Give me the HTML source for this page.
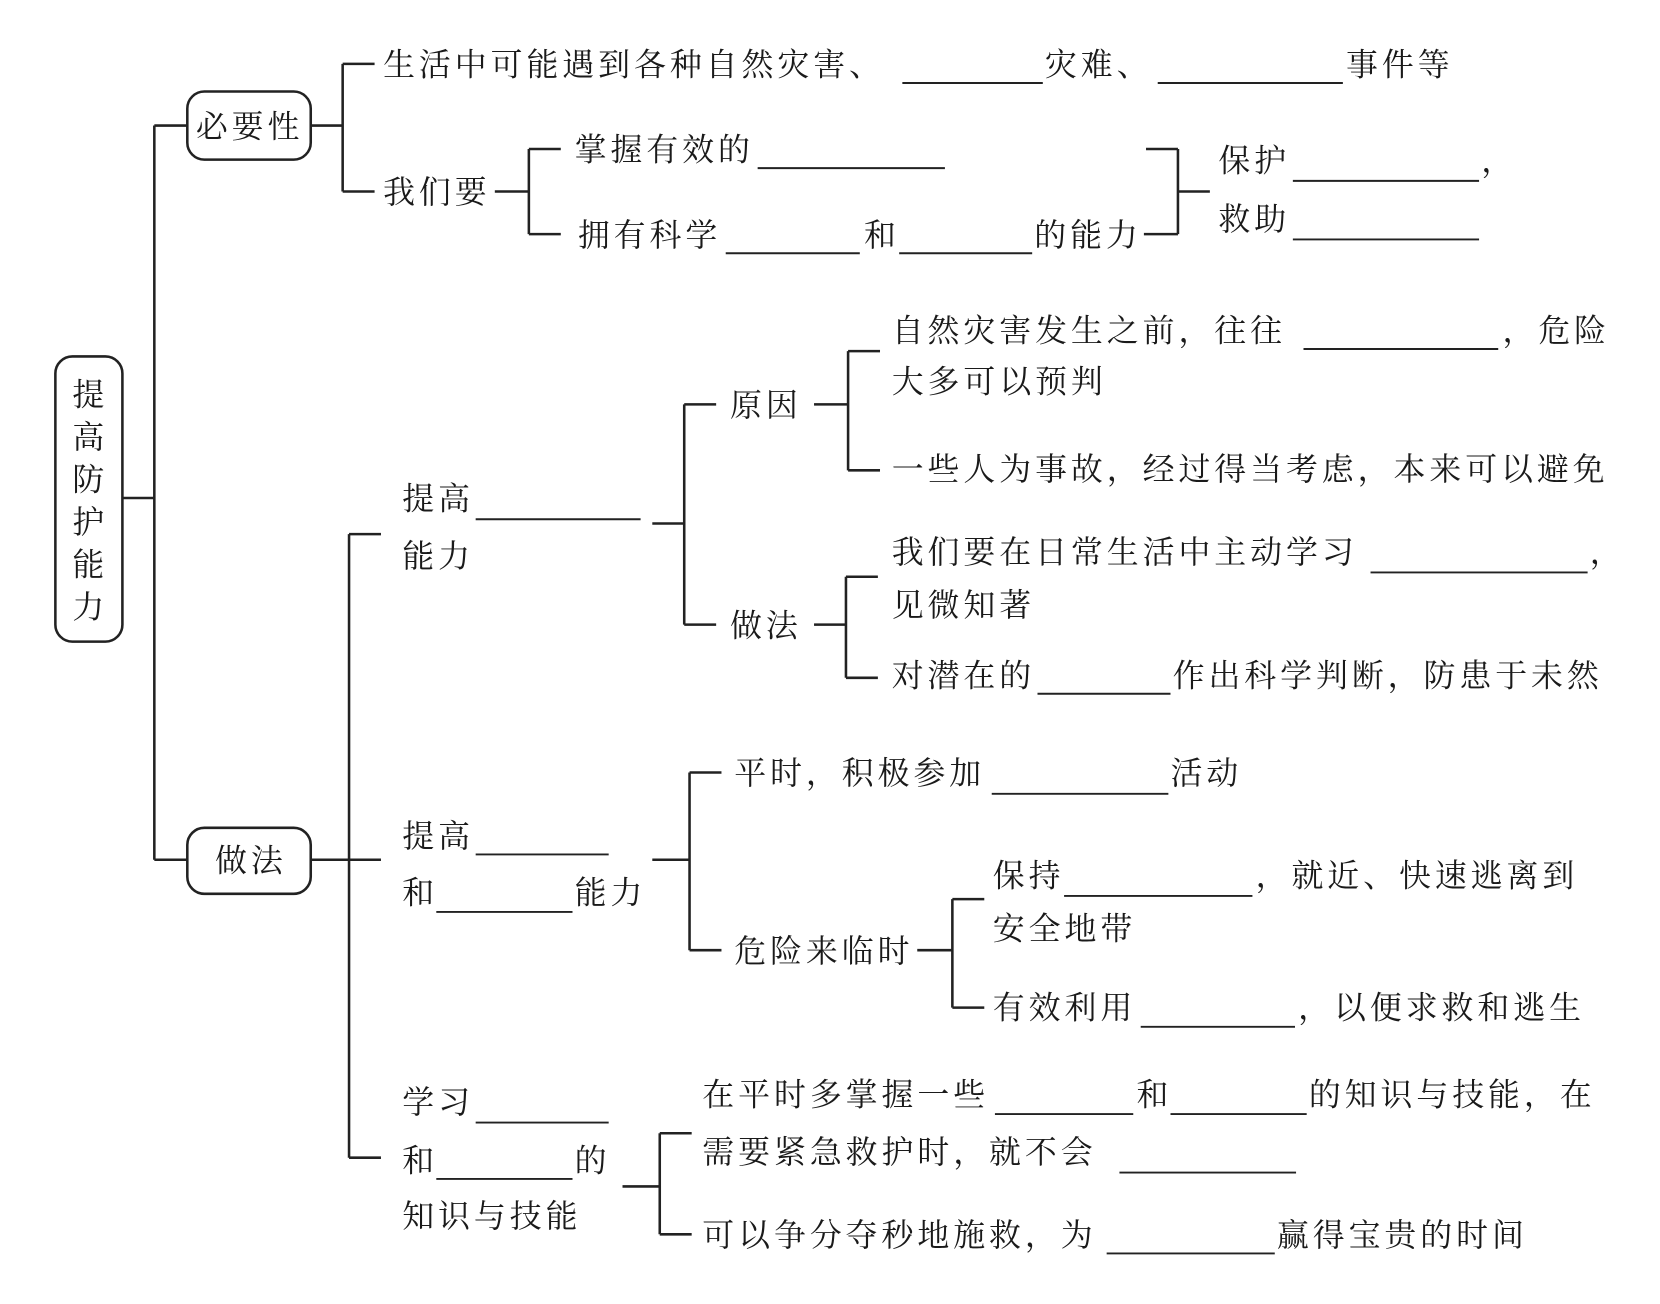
<!DOCTYPE html>
<html><head><meta charset="utf-8"><style>
html,body{margin:0;padding:0;background:#fff;}
svg{display:block;}
text{font-family:"Liberation Serif","Noto Serif CJK SC",serif;font-size:30px;letter-spacing:3.7px;fill:#1a1a1a;}
</style></head><body>
<svg width="1660" height="1304" viewBox="0 0 1560 1225.5" xmlns="http://www.w3.org/2000/svg">
<g stroke="#222" stroke-width="2.4" fill="none">
<rect x="52" y="335" width="63" height="268" rx="16"/>
<rect x="176" y="86" width="116" height="64" rx="16"/>
<rect x="176" y="778" width="116" height="62" rx="16"/>
<path d="M115 468H145M145 118V808M145 118H176M145 808H176"/>
<path d="M292 118H322M322 60V180M322 60H352M322 180H352"/>
<path d="M465 180H497M497 140V220M497 140H527M497 220H527"/>
<path d="M1075 220H1107M1107 140V220M1077 140H1107M1107 180H1137"/>
<path d="M292 808H358M328 502V1088M328 502H358M328 1088H358"/>
<path d="M613 492H643M643 380V587M643 380H673M643 587H673"/>
<path d="M765 380H797M797 330V442M797 330H827M797 442H827"/>
<path d="M765 587H795M795 542V637M795 542H825M795 637H825"/>
<path d="M613 808H648M648 726V893M648 726H678M648 893H678"/>
<path d="M862 893H895M895 845V947M895 845H925M895 947H925"/>
<path d="M585 1115H620M620 1065V1160M620 1065H650M620 1160H650"/>
</g>
<g stroke="#222" stroke-width="1.8">
<path d="M848 78H980M1088 78H1262M712 158H888M682 238H808M845 238H970M1215 170H1390M1215 225H1390"/>
<path d="M447 488H602M1225 328H1408M1288 538H1492M975 652H1100"/>
<path d="M447 803H572M410 857H538M932 746H1098M1000 842H1177M1072 965H1217"/>
<path d="M447 1055H572M410 1108H538M935 1047H1065M1100 1047H1228M1052 1102H1218M1040 1178H1198"/>
</g>
<g>
<text x="68" y="381">提</text><text x="68" y="421">高</text><text x="68" y="461">防</text><text x="68" y="501">护</text><text x="68" y="541">能</text><text x="68" y="581">力</text>
<text x="184" y="129">必要性</text>
<text x="202" y="819">做法</text>
<text x="360" y="71">生活中可能遇到各种自然灾害、</text>
<text x="982" y="71">灾难、</text>
<text x="1265" y="71">事件等</text>
<text x="360" y="191">我们要</text>
<text x="540" y="151">掌握有效的</text>
<text x="543" y="231">拥有科学</text>
<text x="812" y="231">和</text>
<text x="972" y="231">的能力</text>
<text x="1145" y="161">保护</text><text x="1392" y="161">，</text>
<text x="1145" y="216">救助</text>
<text x="378" y="479">提高</text>
<text x="378" y="533">能力</text>
<text x="686" y="391">原因</text>
<text x="838" y="321">自然灾害发生之前，往往</text>
<text x="1412" y="321">，危险</text>
<text x="838" y="369">大多可以预判</text>
<text x="838" y="451">一些人为事故，经过得当考虑，本来可以避免</text>
<text x="686" y="598">做法</text>
<text x="838" y="529">我们要在日常生活中主动学习</text><text x="1494" y="529">，</text>
<text x="838" y="579">见微知著</text>
<text x="838" y="645">对潜在的</text>
<text x="1102" y="645">作出科学判断，防患于未然</text>
<text x="378" y="796">提高</text>
<text x="378" y="849">和</text><text x="540" y="849">能力</text>
<text x="690" y="737">平时，积极参加</text>
<text x="1100" y="737">活动</text>
<text x="690" y="904">危险来临时</text>
<text x="933" y="833">保持</text>
<text x="1180" y="833">，就近、快速逃离到</text>
<text x="933" y="883">安全地带</text>
<text x="933" y="957">有效利用</text>
<text x="1220" y="957">，以便求救和逃生</text>
<text x="378" y="1046">学习</text>
<text x="378" y="1101">和</text><text x="540" y="1101">的</text>
<text x="378" y="1153">知识与技能</text>
<text x="660" y="1039">在平时多掌握一些</text>
<text x="1068" y="1039">和</text>
<text x="1230" y="1039">的知识与技能，在</text>
<text x="660" y="1093">需要紧急救护时，就不会</text>
<text x="660" y="1171">可以争分夺秒地施救，为</text>
<text x="1200" y="1171">赢得宝贵的时间</text>
</g>
</svg>
</body></html>
